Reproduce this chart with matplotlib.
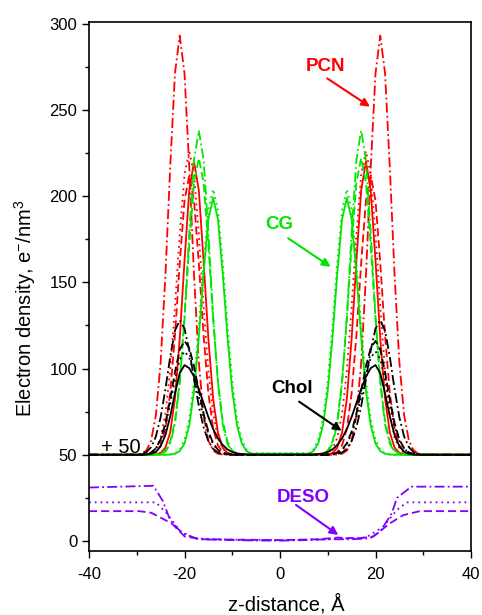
import matplotlib

matplotlib.use('Agg')
import matplotlib.pyplot as plt
from matplotlib.ticker import MultipleLocator

plt.rcParams['font.family'] = ['Liberation Sans', 'DejaVu Sans']
plt.rcParams['mathtext.fontset'] = 'custom'
plt.rcParams['mathtext.rm'] = 'Liberation Sans'
plt.rcParams['axes.unicode_minus'] = False

# ── data (values already include the +50 shift) ──
Z = [-40,
     -30, -29, -28, -27, -26, -25, -24, -23, -22, -21, -20, -19, -18, -17, -16,
     -15, -14, -13, -12, -11, -10, -9, -8, -7, -6,
     6, 7, 8, 9, 10, 11, 12, 13, 14, 15, 16, 17, 18, 19, 20,
     21, 22, 23, 24, 25, 26, 27, 28, 29, 30,
     40]

pcn_solid = [50,
             50, 50, 50, 50, 50.2, 51.1, 54.1, 62.9, 82.5, 117.2, 162.4, 203.3, 220, 203.3, 162.4,
             117.2, 82.5, 62.9, 54.1, 51.1, 50.2, 50, 50, 50, 50,
             50, 50, 50, 50, 50.2, 51.1, 54.1, 62.9, 82.5, 117.2, 162.4, 203.3, 220, 203.3, 162.4,
             117.2, 82.5, 62.9, 54.1, 51.1, 50.2, 50, 50, 50, 50,
             50]
pcn_dash = [50,
            50, 50, 50.1, 50.4, 51.6, 55.4, 65.2, 85.6, 119.2, 161, 197.4, 212, 197.4, 161, 119.2,
            85.6, 65.2, 55.4, 51.6, 50.4, 50.1, 50, 50, 50, 50,
            50, 50, 50, 50, 50.1, 50.4, 51.6, 55.4, 65.2, 85.6, 119.2, 161, 197.4, 212, 197.4,
            161, 119.2, 85.6, 65.2, 55.4, 51.6, 50.4, 50.1, 50, 50,
            50]
pcn_dot = [50,
           50, 50, 50.3, 51.1, 53.5, 59.9, 73.8, 98.9, 135.7, 177.8, 212.4, 226, 212.4, 177.8, 135.7,
           98.9, 73.8, 59.9, 53.5, 51.1, 50.3, 50, 50, 50, 50,
           50, 50, 50, 50.3, 51.1, 53.5, 59.9, 73.8, 98.9, 135.7, 177.8, 212.4, 226, 212.4, 177.8,
           135.7, 98.9, 73.8, 59.9, 53.5, 51.1, 50.3, 50, 50, 50,
           50]
pcn_dashdot = [50,
               50.1, 50.6, 52.4, 58.1, 72.8, 103.5, 153.8, 216.5, 271.1, 293, 271.1, 216.5, 153.8, 103.5, 72.8,
               58.1, 52.4, 50.6, 50.1, 50, 50, 50, 50, 50, 50,
               50, 50, 50, 50, 50, 50, 50.1, 50.6, 52.4, 58.1, 72.8, 103.5, 153.8, 216.5, 271.1,
               293, 271.1, 216.5, 153.8, 103.5, 72.8, 58.1, 52.4, 50.6, 50.1,
               50]

cg_solid = [50,
            50, 50, 50, 50, 50, 50, 50, 50.1, 50.6, 52.1, 56.5, 67, 87.1, 118.2, 155.3,
            186.6, 199, 186.6, 155.3, 118.2, 87.1, 67, 56.5, 52.1, 50.6,
            50.6, 52.1, 56.5, 67, 87.1, 118.2, 155.3, 186.6, 199, 186.6, 155.3, 118.2, 87.1, 67, 56.5,
            52.1, 50.6, 50.1, 50, 50, 50, 50, 50, 50, 50,
            50]
cg_dash = [50,
           50, 50, 50, 50, 50.2, 50.7, 52.4, 57.6, 69.6, 92.8, 128.8, 171.6, 207.7, 222, 207.7,
           171.6, 128.8, 92.8, 69.6, 57.6, 52.4, 50.7, 50.2, 50, 50,
           50, 50, 50.2, 50.7, 52.4, 57.6, 69.6, 92.8, 128.8, 171.6, 207.7, 222, 207.7, 171.6, 128.8,
           92.8, 69.6, 57.6, 52.4, 50.7, 50.2, 50, 50, 50, 50,
           50]
cg_dot = [50,
          50, 50, 50, 50, 50, 50, 50, 50.2, 50.9, 53, 58.6, 70.8, 92.8, 125, 161.8,
          192.1, 204, 192.1, 161.8, 125, 92.8, 70.8, 58.6, 53, 50.9,
          50.9, 53, 58.6, 70.8, 92.8, 125, 161.8, 192.1, 204, 192.1, 161.8, 125, 92.8, 70.8, 58.6,
          53, 50.9, 50.2, 50, 50, 50, 50, 50, 50, 50,
          50]
cg_dashdot = [50,
              50, 50, 50, 50, 50.1, 50.5, 51.8, 56.3, 67.7, 91.4, 130.3, 178.8, 221.1, 238, 221.1,
              178.8, 130.3, 91.4, 67.7, 56.3, 51.8, 50.5, 50.1, 50, 50,
              50, 50, 50.1, 50.5, 51.8, 56.3, 67.7, 91.4, 130.3, 178.8, 221.1, 238, 221.1, 178.8, 130.3,
              91.4, 67.7, 56.3, 51.8, 50.5, 50.1, 50, 50, 50, 50,
              50]

chol_solid = [50,
              50, 50, 50.1, 50.5, 51.7, 54.9, 61.4, 72.2, 85.6, 97.3, 102, 100.2, 95.3, 88.1, 79.9,
              71.9, 64.9, 59.5, 55.7, 53.1, 51.6, 50.8, 50.4, 50.2, 50.1,
              50.1, 50.2, 50.4, 50.8, 51.6, 53.1, 55.7, 59.5, 64.9, 71.9, 79.9, 88.1, 95.3, 100.2, 102,
              97.3, 85.6, 72.2, 61.4, 54.9, 51.7, 50.5, 50.1, 50, 50,
              50]
chol_dash = [50,
             50, 50.1, 50.4, 51.3, 53.7, 58.9, 68.3, 82.1, 97.9, 110.9, 116, 111.9, 101.2, 87.2, 73.8,
             63.4, 56.7, 52.9, 51.1, 50.4, 50.1, 50, 50, 50, 50,
             50, 50, 50, 50, 50.1, 50.4, 51.1, 52.9, 56.7, 63.4, 73.8, 87.2, 101.2, 111.9, 116,
             110.9, 97.9, 82.1, 68.3, 58.9, 53.7, 51.3, 50.4, 50.1, 50,
             50]
chol_dot = [50,
            50, 50.1, 50.4, 51.2, 53.4, 58.1, 66.7, 79.2, 93.6, 105.4, 110, 106.3, 96.5, 83.8, 71.6,
            62.2, 56.1, 52.6, 51, 50.3, 50.1, 50, 50, 50, 50,
            50, 50, 50, 50, 50.1, 50.3, 51, 52.6, 56.1, 62.2, 71.6, 83.8, 96.5, 106.3, 110,
            105.4, 93.6, 79.2, 66.7, 58.1, 53.4, 51.2, 50.4, 50.1, 50,
            50]
chol_dashdot = [50,
                50.1, 50.5, 51.5, 54.4, 60.5, 71.7, 88, 106.6, 122, 128, 123.2, 110.5, 93.9, 78.1, 65.8,
                57.9, 53.4, 51.3, 50.4, 50.1, 50, 50, 50, 50, 50,
                50, 50, 50, 50, 50, 50.1, 50.4, 51.3, 53.4, 57.9, 65.8, 78.1, 93.9, 110.5, 123.2,
                128, 122, 106.6, 88, 71.7, 60.5, 54.4, 51.5, 50.5, 50.1,
                50]

# DESO is not shifted and was sampled coarsely
deso_dashdot_z = [-40, -26.5, -24.5, -23, -20.5, -17, -10, -5, 0, 5, 10, 15, 18.8, 21, 23.4, 24.5, 27.5, 40]
deso_dashdot = [31, 32, 23, 12, 4.5, 1, 0.5, 0.3, 0.2, 0.5, 1, 1, 1.5, 5.5, 16, 25, 31.5, 31.5]
deso_dot_z = [-40, -26, -23.7, -21, -18, -10, 0, 10, 18, 21.5, 24.5, 26.5, 40]
deso_dot = [22.4, 22.4, 16, 6, 1.5, 0.8, 0.5, 1, 2, 8, 18, 22.4, 22.4]
deso_dash_z = [-40, -29.5, -27, -22.7, -19.9, -16, -10, 0, 8, 12, 16, 19.5, 23, 25.8, 29.3, 40]
deso_dash = [17.3, 17.3, 16.4, 10.2, 2.5, 1, 0.8, 0.5, 1, 2, 1.5, 2.5, 10.2, 15, 17.3, 17.3]

RED, GREEN, BLACK, PURPLE = '#ff0000', '#00e600', '#000000', '#8000ff'
LS = {'solid': '-', 'dash': (0, (4.5, 2.2)), 'dot': (0, (1, 2.2)),
      'dashdot': (0, (5.5, 1.8, 1, 1.8))}
LW = 1.3

fig = plt.figure(figsize=(4.82, 6.15), dpi=100)
ax = fig.add_axes([89 / 482, 1 - 551 / 615, 382 / 482, 529 / 615])

groups = [
    (RED, [('solid', pcn_solid), ('dash', pcn_dash), ('dot', pcn_dot), ('dashdot', pcn_dashdot)]),
    (GREEN, [('solid', cg_solid), ('dash', cg_dash), ('dot', cg_dot), ('dashdot', cg_dashdot)]),
    (BLACK, [('solid', chol_solid), ('dash', chol_dash), ('dot', chol_dot), ('dashdot', chol_dashdot)]),
]
for color, curves in groups:
    for style, ys in curves:
        ax.plot(Z, ys, color=color, ls=LS[style], lw=LW)

ax.plot(deso_dashdot_z, deso_dashdot, color=PURPLE, ls=LS['dashdot'], lw=LW)
ax.plot(deso_dot_z, deso_dot, color=PURPLE, ls=LS['dot'], lw=LW)
ax.plot(deso_dash_z, deso_dash, color=PURPLE, ls=LS['dash'], lw=LW)

# ── labels + arrows ──
lab_kw = dict(fontsize=13.5, fontweight='bold', ha='center', va='baseline')
arr = lambda c: dict(arrowstyle='-|>', color=c, lw=1.5, mutation_scale=12, shrinkA=0, shrinkB=0)
ax.text(9.5, 272.6, 'PCN', color=RED, **lab_kw)
ax.annotate('', xy=(18.85, 251.8), xytext=(9.9, 268.2), arrowprops=arr(RED))
ax.text(-0.2, 180.7, 'CG', color=GREEN, **lab_kw)
ax.annotate('', xy=(10.6, 159), xytext=(1.7, 175.5), arrowprops=arr(GREEN))
ax.text(2.5, 85.6, 'Chol', color=BLACK, **lab_kw)
ax.annotate('', xy=(12.9, 63.9), xytext=(4.0, 80.8), arrowprops=arr(BLACK))
ax.text(4.9, 22.8, 'DESO', color=PURPLE, **lab_kw)
ax.annotate('', xy=(12.2, 3.5), xytext=(3.35, 20.9), arrowprops=arr(PURPLE))
ax.text(-33.4, 51.2, '+ 50', fontsize=14.5, ha='center', va='baseline')

ax.set_xlim(-40, 40)
ax.set_ylim(-5.8, 300.9)
ax.xaxis.set_major_locator(MultipleLocator(20))
ax.xaxis.set_minor_locator(MultipleLocator(10))
ax.yaxis.set_major_locator(MultipleLocator(50))
ax.yaxis.set_minor_locator(MultipleLocator(25))
ax.tick_params(which='both', direction='out', width=1, labelsize=12, top=False, right=False)
ax.tick_params(which='major', length=5)
ax.tick_params(which='minor', length=3)
ax.tick_params(axis='x', which='major', pad=6.5)
for sp in ax.spines.values():
    sp.set_linewidth(1.2)

fig.text(286 / 482, 1 - 604 / 615, 'z-distance, Å', fontsize=14.5, ha='center', va='center')
fig.text(25 / 482, 1 - 200 / 615, r'Electron density, e$^{-}$/nm$^{3}$', fontsize=14.5,
         rotation=90, ha='center', va='top')

fig.savefig('out.png', dpi=100)
